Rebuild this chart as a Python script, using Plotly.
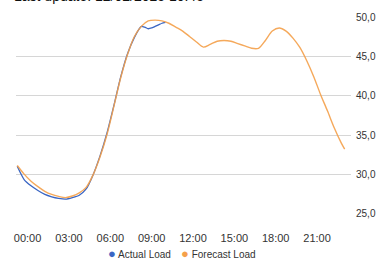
import plotly.graph_objects as go

TITLE = "Last update: 12/02/2025 10:45"

# Forecast load (half-hourly, hours of the day)
forecast_hours = [i * 0.5 for i in range(48)] + [23.75]
forecast_load = [31.1, 30.0, 29.1, 28.4, 27.8, 27.4, 27.15, 27.0, 27.2, 27.6,
                 28.3, 29.9, 32.2, 35.0, 38.6, 42.3, 45.3, 47.6, 48.9, 49.6,
                 49.7, 49.6, 49.3, 48.8, 48.3, 47.6, 46.9, 46.25, 46.6, 47.0,
                 47.1, 47.0, 46.7, 46.4, 46.1, 46.1, 47.1, 48.3, 48.7, 48.3,
                 47.4, 46.2, 44.5, 42.5, 40.2, 38.1, 35.9, 34.0, 33.2]

# Actual load (up to last update)
actual_hours = [i * 0.5 for i in range(19)] + [9.25, 9.5, 9.75, 10.0, 10.25, 10.5, 10.75]
actual_load = [31.0, 29.3, 28.5, 27.9, 27.4, 27.1, 26.9, 26.8, 27.0, 27.3,
               28.1, 29.9, 32.3, 35.2, 38.7, 42.4, 45.4, 47.5, 48.9,
               48.8, 48.6, 48.7, 48.9, 49.1, 49.3, 49.4]

tick_hours = [0, 3, 6, 9, 12, 15, 18, 21]
tick_labels = ["00:00", "03:00", "06:00", "09:00", "12:00", "15:00", "18:00", "21:00"]
TICK_OFFSET = 0.75
y_ticks = [25, 30, 35, 40, 45, 50]

ACTUAL_COLOR = "#3a66c4"
FORECAST_COLOR = "#f5a04a"
FONT = "Liberation Sans, Arial, sans-serif"

fig = go.Figure()
fig.add_trace(go.Scatter(x=actual_hours, y=actual_load, mode="lines",
                         line=dict(color=ACTUAL_COLOR, width=1.3, shape="spline", smoothing=0.6),
                         name="Actual Load", showlegend=False))
fig.add_trace(go.Scatter(x=forecast_hours, y=forecast_load, mode="lines",
                         line=dict(color=FORECAST_COLOR, width=1.4, shape="spline", smoothing=0.8),
                         opacity=0.9, name="Forecast Load", showlegend=False))

fig.update_layout(
    width=388, height=262,
    margin=dict(l=16, r=31, t=17, b=48),
    paper_bgcolor="white", plot_bgcolor="white",
    separators=",.",
    font=dict(family=FONT, color="#333333"),
    xaxis=dict(range=[-0.09, 24.21],
               tickvals=[h + TICK_OFFSET for h in tick_hours], ticktext=tick_labels,
               showgrid=False, zeroline=False, showline=False,
               ticks="outside", ticklen=14, tickcolor="rgba(0,0,0,0)",
               tickfont=dict(size=11, color="#333333", family=FONT)),
    yaxis=dict(range=[24.9, 50.1], side="right", tickvals=y_ticks, tickformat=".1f",
               showgrid=True, gridcolor="#d6d6d6", gridwidth=1,
               zeroline=False, showline=False, ticks="", ticklabelstandoff=4,
               tickfont=dict(size=10, color="#333333", family=FONT)),
    annotations=[
        dict(text=TITLE, xref="paper", yref="paper", x=-0.0117, y=1.055,
             xanchor="left", yanchor="bottom", showarrow=False,
             font=dict(size=14, color="#111111", family=FONT)),
        dict(text="<span style='color:%s;font-size:13px'>●</span> Actual Load" % ACTUAL_COLOR,
             xref="paper", yref="paper", x=0.268, y=-0.203,
             xanchor="left", yanchor="middle", showarrow=False,
             font=dict(size=10, color="#333333", family=FONT)),
        dict(text="<span style='color:%s;font-size:13px'>●</span> Forecast Load" % FORECAST_COLOR,
             xref="paper", yref="paper", x=0.4867, y=-0.203,
             xanchor="left", yanchor="middle", showarrow=False,
             font=dict(size=10, color="#333333", family=FONT)),
    ],
)

fig.write_html("out.html", config={"displayModeBar": False},
               post_script="document.body.style.margin='0';")
